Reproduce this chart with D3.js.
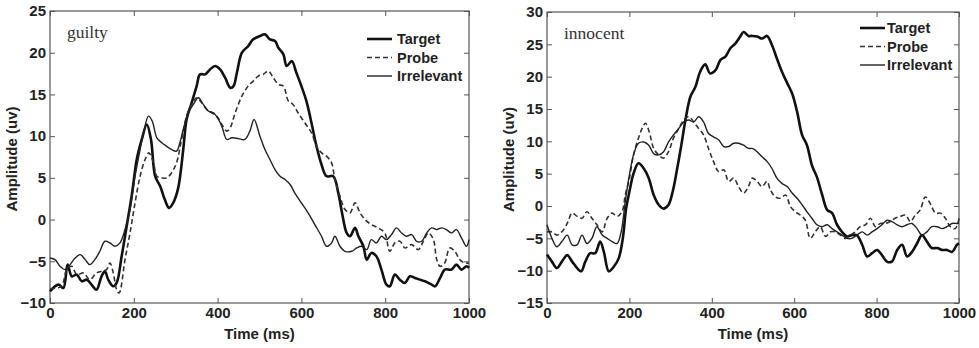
<!DOCTYPE html>
<html>
<meta charset="utf-8">
<script src="https://cdn.jsdelivr.net/npm/d3@7/dist/d3.min.js"></script>
<title>ERP amplitude</title>
<style>
body { margin: 0; background: #fff; }
.tick text { font-family: "Liberation Sans", Arial, sans-serif; font-weight: bold; font-size: 15px; fill: #222; }
.tick line { stroke: #555; }
.axis .domain { display: none; }
</style>
<body>
<script type="text/javascript">

// time (ms), amplitude (uv)
var guiltyTarget = [[0,-8.6],[20,-7.8],[32,-8.2],[42,-5.4],[52,-6.8],[64,-6.6],[76,-7.4],[88,-7.2],[99,-7.8],[111,-8.4],[123,-6.8],[131,-6.2],[139,-7.2],[151,-8],[159,-7.6],[171,-4.4],[183,-0.8],[196,3.2],[207,7.2],[219,9.6],[231,11.4],[241,9.6],[251,5.2],[263,4],[274,2.4],[284,1.4],[294,2],[306,3.8],[318,8.4],[326,12],[338,14],[350,16],[358,17.4],[370,17.4],[382,18],[394,18.4],[406,18],[418,17],[430,15.8],[438,16],[446,17.6],[458,20],[473,20.8],[485,21.6],[501,22],[513,22.2],[525,21.6],[537,21.4],[545,20.6],[557,19.8],[565,18.4],[577,19],[588,17.6],[600,16],[612,14.2],[624,11.6],[636,8.8],[648,6.6],[660,5.2],[676,5.2],[688,3.2],[697,0.8],[708,-1.6],[716,-2],[728,-1],[736,-2],[748,-3.2],[756,-4.8],[767,-4],[779,-4.4],[791,-6],[803,-7.8],[811,-8],[823,-6.6],[835,-7.2],[847,-7.6],[859,-6.8],[871,-7],[883,-7.2],[895,-7.4],[911,-7.8],[919,-8],[931,-7],[942,-6],[958,-6],[970,-5.4],[982,-6],[994,-5.6],[1000,-5.8]];
var guiltyProbe = [[0,-8.3],[16,-8.2],[28,-8],[40,-6],[52,-5.6],[64,-6.6],[80,-6.4],[95,-7.2],[111,-6.4],[123,-6.2],[135,-6],[143,-5.2],[151,-6.4],[159,-8.4],[165,-8.8],[179,-4.8],[191,-1.6],[203,2],[215,5.2],[227,7.2],[236,8],[247,6.8],[255,5.2],[267,5],[279,5],[290,5.6],[302,6.8],[314,9.6],[326,12.4],[338,13.8],[350,14.6],[362,14],[374,13.2],[386,12.8],[398,12.4],[410,11.4],[422,10.6],[430,11],[442,12.8],[458,14.8],[473,16],[485,16.6],[497,17.2],[509,17.4],[521,17.8],[533,17],[545,16.2],[557,16],[569,14.2],[580,13.8],[592,12.8],[608,11.6],[624,10.4],[636,8.8],[648,8],[660,7.6],[672,6.8],[680,4.8],[692,2.8],[704,1.2],[716,0.8],[728,2],[740,0.8],[752,0],[767,-0.6],[783,-1],[799,-1.6],[811,-3.8],[823,-2.8],[835,-2.6],[847,-3.4],[863,-3],[879,-3.6],[891,-2.6],[903,-1.6],[915,-2.4],[923,-4.8],[931,-5.6],[942,-5.2],[954,-3.4],[966,-3.8],[978,-4.8],[990,-5.2],[1000,-5.2]];
var guiltyIrrelevant = [[0,-4.6],[12,-4.8],[24,-5.6],[36,-6],[48,-5.4],[60,-4.6],[72,-4.2],[84,-4.8],[95,-5.4],[107,-4.8],[119,-3.8],[131,-2.6],[143,-2.8],[155,-3.2],[167,-2.8],[179,-1.2],[191,1.2],[203,5.2],[215,8.4],[225,10.8],[235,12.4],[244,11.8],[255,9.8],[267,9.2],[278,8.8],[290,8.4],[302,8.2],[310,9.2],[318,10.8],[330,12.8],[342,13.8],[354,14.6],[366,13.8],[378,13],[390,12.8],[402,12],[410,11.2],[422,9.6],[434,9.8],[450,9.7],[465,9.6],[477,10.6],[487,12],[501,10],[513,8.4],[525,7.2],[537,6],[549,5.2],[561,4.8],[573,4.2],[584,3.2],[600,2],[616,0.8],[632,-0.6],[648,-2],[660,-3.2],[672,-2.8],[680,-2],[692,-3.2],[704,-3.8],[720,-3.8],[732,-3.4],[744,-3.2],[756,-3.6],[767,-2.4],[779,-2.8],[791,-2],[803,-2.4],[815,-1.8],[827,-1],[839,-1.6],[851,-2],[863,-1.8],[875,-2.6],[887,-2.6],[899,-1.6],[911,-1],[923,-1.2],[935,-1],[946,-1.2],[958,-1.6],[970,-1.2],[982,-2.2],[994,-3.2],[1000,-2.4]];

var innocentTarget = [[0,-7.5],[12,-8.6],[24,-9.6],[36,-8.6],[49,-7.6],[61,-8.6],[73,-9.6],[83,-10.1],[93,-8.6],[105,-7.3],[117,-7.3],[129,-5.5],[138,-7.1],[150,-10.1],[162,-9.4],[174,-8.1],[184,-5],[192,-0.4],[200,2.2],[210,5],[222,6.6],[235,5.8],[247,4.3],[259,1.7],[271,0.2],[283,-0.4],[295,0.2],[305,2.2],[316,5.8],[326,9.4],[336,13.3],[348,16.9],[360,18.4],[372,20.8],[384,21.9],[396,20.5],[409,21],[421,22.6],[433,23.1],[445,24.4],[457,25.1],[469,26.2],[477,26.9],[489,26.3],[498,26.3],[510,26.2],[522,25.9],[534,26.3],[546,24.9],[558,22.8],[570,20.8],[583,19],[595,17.4],[607,14.6],[619,11],[631,9.4],[643,6.3],[655,4.5],[668,1.7],[680,-0.6],[692,-1.1],[704,-2.9],[716,-4],[728,-4.7],[740,-4.5],[752,-4.5],[765,-6],[777,-7.8],[789,-7.3],[801,-6.8],[813,-7.6],[825,-8.6],[837,-8.6],[850,-6.8],[862,-6],[874,-7.8],[886,-7.1],[898,-5.8],[910,-4.5],[922,-5.5],[934,-6.5],[947,-6.5],[959,-6.8],[971,-6.8],[983,-7.1],[995,-6],[1000,-5.8]];
var innocentProbe = [[0,-4],[12,-4],[24,-4.5],[36,-4],[49,-2.7],[61,-1.1],[73,-1.6],[85,-1.9],[97,-0.9],[109,-1.9],[121,-2.9],[134,-4],[146,-1.9],[158,-1.1],[170,-1.6],[182,-0.9],[190,1.7],[200,4.3],[210,7.9],[222,10.5],[231,12],[239,12.8],[248,11.5],[259,8.9],[271,7.9],[283,7.4],[295,8.4],[307,10.5],[320,12],[332,13.3],[344,13.8],[356,13],[368,12],[380,11],[392,8.9],[404,6.9],[417,5.3],[429,5.6],[441,3.8],[453,4.3],[465,3],[477,2],[489,3],[498,4.3],[510,3.8],[522,3],[534,3.8],[542,2.5],[554,1.4],[566,1.2],[579,1.7],[591,-0.1],[603,-0.9],[615,-1.4],[627,-2.2],[639,-5],[651,-4],[663,-3.2],[676,-4.7],[688,-4],[700,-4],[712,-4.5],[724,-5],[736,-4.5],[748,-4],[760,-3.2],[773,-2.9],[785,-1.9],[797,-3.2],[809,-2.7],[821,-2.7],[833,-2.4],[845,-1.9],[858,-1.6],[870,-1.4],[882,-2.4],[894,-1.4],[906,-0.6],[918,1.4],[930,0.4],[943,-1.1],[955,-1.1],[967,-1.9],[979,-3.2],[991,-3.5],[1000,-1.9]];
var innocentIrrelevant = [[0,-2.9],[12,-5],[24,-6.3],[36,-5.5],[49,-4.5],[61,-6],[73,-6],[85,-4.5],[97,-5.8],[109,-5],[121,-3.2],[134,-4.5],[146,-5],[158,-5.5],[170,-5.8],[180,-4],[190,0.7],[200,4.8],[210,7.9],[222,9.7],[235,9.9],[247,9.4],[259,8.1],[271,7.9],[283,8.4],[295,9.9],[307,11],[320,12],[332,13],[344,13.3],[356,13],[368,13.8],[380,13],[392,11.2],[404,10.7],[417,10.2],[429,9.2],[441,9.2],[453,9.7],[465,9.7],[477,9.4],[489,8.9],[498,8.9],[510,8.4],[522,7.6],[534,6.9],[546,5.8],[558,4.3],[570,3.5],[583,3],[595,2],[607,1.2],[619,0.2],[631,-0.9],[643,-1.9],[655,-2.9],[668,-3.2],[680,-2.9],[692,-3.5],[704,-4],[716,-4.5],[728,-5],[740,-5],[752,-4.5],[765,-4],[777,-4.5],[789,-4],[801,-3.5],[813,-2.9],[825,-2.2],[837,-2.4],[850,-2.9],[862,-3.2],[874,-2.9],[886,-2.7],[898,-3.5],[910,-4.5],[922,-4],[934,-3.2],[947,-3.2],[959,-3.5],[971,-3.2],[983,-2.7],[995,-2.7],[1000,-2.7]];

var timeTicks = [0, 200, 400, 600, 800, 1000];
var guiltyTicks = [-10, -5, 0, 5, 10, 15, 20, 25];
var innocentTicks = [-15, -10, -5, 0, 5, 10, 15, 20, 25, 30];
var seriesNames = ["Target", "Probe", "Irrelevant"];

var styles = {
    Target     : {width: 2.6, dash: null,  color: "#111"},
    Probe      : {width: 1.6, dash: "5,3", color: "#333"},
    Irrelevant : {width: 1.4, dash: null,  color: "#222"}
};

var panels = [
    { name: "guilty",   left: 50,  right: 469, top: 11, bottom: 303,
      yDomain: [-10, 25], yTicks: guiltyTicks,
      data: [guiltyTarget, guiltyProbe, guiltyIrrelevant],
      legend: {x: 367, y: 39, step: 18.5, gap: 5} },
    { name: "innocent", left: 547, right: 959, top: 12, bottom: 303,
      yDomain: [-15, 30], yTicks: innocentTicks,
      data: [innocentTarget, innocentProbe, innocentIrrelevant],
      legend: {x: 860, y: 28, step: 18.5, gap: 2} }
];

var svg = d3.select("body")
    .append("svg")
    .attr("width", 979)
    .attr("height", 348);

panels.forEach(function(p) {
    var x = d3.scaleLinear().domain([0, 1000]).range([p.left, p.right]);
    var y = d3.scaleLinear().domain(p.yDomain).range([p.bottom, p.top]);

    var line = d3.line()
        .curve(d3.curveCatmullRom.alpha(0.5))
        .x(function(d) { return x(d[0]); })
        .y(function(d) { return y(d[1]); });

    var g = svg.append("g");

    // ticks point inward on all four sides
    g.append("g").attr("class", "axis")
        .attr("transform", "translate(0," + p.bottom + ")")
        .call(d3.axisBottom(x).tickValues(timeTicks).tickSizeInner(-5).tickSizeOuter(0).tickPadding(4)
            .tickFormat(function(d) { return String(d); }));
    g.append("g").attr("class", "axis")
        .attr("transform", "translate(0," + p.top + ")")
        .call(d3.axisTop(x).tickValues(timeTicks).tickSizeInner(-5).tickSizeOuter(0).tickFormat(""));
    g.append("g").attr("class", "axis")
        .attr("transform", "translate(" + p.left + ",0)")
        .call(d3.axisLeft(y).tickValues(p.yTicks).tickSizeInner(-5).tickSizeOuter(0).tickPadding(4)
            .tickFormat(function(d) { return d < 0 ? "\u2212" + (-d) : String(d); }));
    g.append("g").attr("class", "axis")
        .attr("transform", "translate(" + p.right + ",0)")
        .call(d3.axisRight(y).tickValues(p.yTicks).tickSizeInner(-5).tickSizeOuter(0).tickFormat(""));

    g.append("rect")
        .attr("x", p.left).attr("y", p.top)
        .attr("width", p.right - p.left).attr("height", p.bottom - p.top)
        .style("fill", "none").style("stroke", "#555").style("stroke-width", 1.2);

    p.data.forEach(function(s, i) {
        var st = styles[seriesNames[i]];
        g.append("path")
            .attr("d", line(s))
            .style("fill", "none")
            .style("stroke", st.color)
            .style("stroke-width", st.width)
            .style("stroke-dasharray", st.dash)
            .style("stroke-linejoin", "round");
    });

    g.append("text")
        .attr("x", x(0) + 17).attr("y", p.top + 27)
        .style("font-family", "'Liberation Serif', 'Times New Roman', serif")
        .style("font-size", "17.5px")
        .style("fill", "#333")
        .text(p.name);

    // legend
    seriesNames.forEach(function(n, i) {
        var st = styles[n];
        var ly = p.legend.y + i * p.legend.step;
        g.append("line")
            .attr("x1", p.legend.x).attr("x2", p.legend.x + 25)
            .attr("y1", ly).attr("y2", ly)
            .style("stroke", st.color)
            .style("stroke-width", st.width)
            .style("stroke-dasharray", st.dash);
        g.append("text")
            .attr("x", p.legend.x + 25 + p.legend.gap).attr("y", ly)
            .attr("dy", "0.36em")
            .style("font-family", "'Liberation Sans', Arial, sans-serif")
            .style("font-weight", "bold")
            .style("font-size", "14.5px")
            .style("fill", "#222")
            .text(n);
    });

    g.append("text")
        .attr("transform", "translate(" + (p.left - 33) + "," + ((p.top + p.bottom) / 2 + 2) + ") rotate(-90)")
        .attr("text-anchor", "middle")
        .style("font-family", "'Liberation Sans', Arial, sans-serif")
        .style("font-weight", "bold")
        .style("font-size", "15px")
        .style("fill", "#222")
        .text("Amplitude (uv)");

    g.append("text")
        .attr("x", (p.left + p.right) / 2).attr("y", 339)
        .attr("text-anchor", "middle")
        .style("font-family", "'Liberation Sans', Arial, sans-serif")
        .style("font-weight", "bold")
        .style("font-size", "15px")
        .style("fill", "#222")
        .text("Time (ms)");
});

</script>
</body>
</html>
